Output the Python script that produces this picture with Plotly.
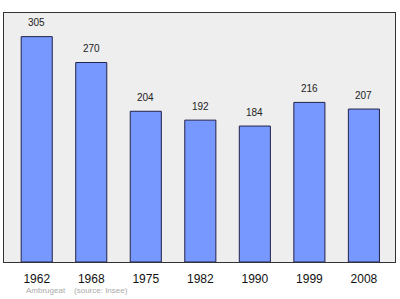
import plotly.graph_objects as go

years = ["1962", "1968", "1975", "1982", "1990", "1999", "2008"]
population = [305, 270, 204, 192, 184, 216, 207]
source_text = "Ambrugeat    (source: Insee)"

xs = list(range(len(years)))

fig = go.Figure()
fig.add_trace(go.Bar(
    x=xs, y=population, width=0.57,
    marker=dict(color="#7799ff", line=dict(color="#22224a", width=1)),
    hoverinfo="skip",
))

for x, v in zip(xs, population):
    fig.add_annotation(x=x, y=v, text=str(v), showarrow=False, yshift=14,
                       font=dict(family="Liberation Sans, Arial", size=10, color="#222"))

fig.add_annotation(xref="paper", yref="paper", x=0.052, y=-0.116, xanchor="left", yanchor="middle",
                   text=source_text, showarrow=False,
                   font=dict(family="Liberation Sans, Arial", size=8, color="#aaaaaa"))

fig.update_layout(
    width=400, height=299,
    margin=dict(l=4, r=5, t=13, b=37),
    paper_bgcolor="white", plot_bgcolor="#eeeeee",
    showlegend=False,
    xaxis=dict(range=[-0.6, 6.57], tickvals=xs, ticktext=years, showgrid=False, zeroline=False,
               showline=True, mirror=True, linecolor="#333", linewidth=1, ticks="",
               ticklabelstandoff=6,
               tickfont=dict(family="Liberation Sans, Arial", size=12, color="#111")),
    yaxis=dict(range=[0, 337], showticklabels=False, showgrid=False, zeroline=False,
               showline=True, mirror=True, linecolor="#333", linewidth=1, ticks=""),
)

fig.write_html("out.html")
